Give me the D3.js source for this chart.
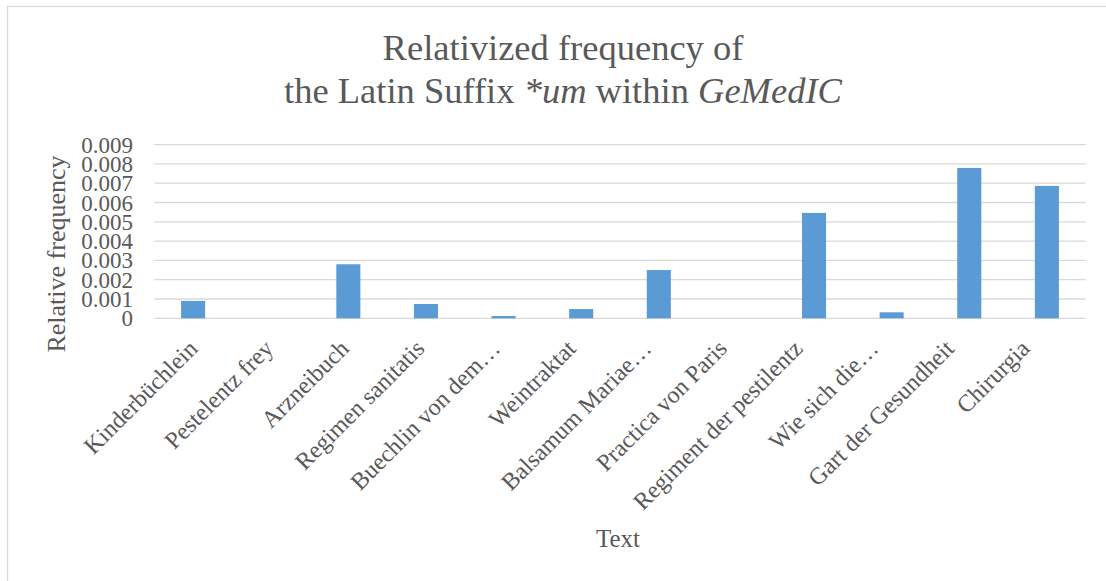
<!DOCTYPE html>
<html>
<head>
<meta charset="utf-8">
<script src="https://cdn.jsdelivr.net/npm/d3@7"></script>
<style>
  html, body { margin: 0; padding: 0; background: #ffffff; }
  svg { display: block; }
  text { font-family: "Liberation Serif", "Times New Roman", serif; fill: #595959; }
</style>
</head>
<body>
<svg id="chart" width="1106" height="581"></svg>
<script>
// Texts of the GeMedIC corpus and the relativized frequency of *um in each
const texts = [
  "Kinderbüchlein", "Pestelentz frey", "Arzneibuch", "Regimen sanitatis",
  "Buechlin von dem…", "Weintraktat", "Balsamum Mariae…", "Practica von Paris",
  "Regiment der pestilentz", "Wie sich die…", "Gart der Gesundheit", "Chirurgia"
];
const frequencies = [
  0.0009, 0, 0.0028, 0.00074,
  0.00012, 0.00048, 0.0025, 0,
  0.00546, 0.00031, 0.00779, 0.00686
];
const yTicks = [0, 0.001, 0.002, 0.003, 0.004, 0.005, 0.006, 0.007, 0.008, 0.009];
const yTickLabels = ["0", "0.001", "0.002", "0.003", "0.004", "0.005", "0.006", "0.007", "0.008", "0.009"];

const svg = d3.select("#chart");

// chart frame
svg.append("rect")
  .attr("x", 7.5).attr("y", 6.5)
  .attr("width", 1200).attr("height", 700)
  .attr("fill", "#ffffff")
  .attr("stroke", "#d9d9d9").attr("stroke-width", 1.3);

const plot = { left: 154.3, right: 1085.7, top: 144.6, bottom: 318.3 };

const x = d3.scaleBand()
  .domain(texts)
  .range([plot.left, plot.right])
  .paddingInner(0.69)
  .paddingOuter(0.345);

// anchor points of the slanted category labels
const labelX = d3.scalePoint()
  .domain(texts)
  .range([199, 1031]);

const y = d3.scaleLinear()
  .domain([0, 0.009])
  .range([plot.bottom, plot.top]);

// horizontal gridlines
svg.append("g")
  .selectAll("line")
  .data(yTicks)
  .join("line")
  .attr("x1", plot.left).attr("x2", plot.right)
  .attr("y1", d => y(d)).attr("y2", d => y(d))
  .attr("stroke", "#d9d9d9").attr("stroke-width", 1.3);

// y tick labels
svg.append("g")
  .selectAll("text")
  .data(yTicks)
  .join("text")
  .attr("x", 133)
  .attr("y", d => y(d))
  .attr("dy", "0.35em")
  .attr("text-anchor", "end")
  .style("font-size", "23px")
  .text((d, i) => yTickLabels[i]);

// bars
svg.append("g")
  .selectAll("rect")
  .data(frequencies)
  .join("rect")
  .attr("x", (d, i) => x(texts[i]))
  .attr("y", d => y(d))
  .attr("width", x.bandwidth())
  .attr("height", d => y(0) - y(d))
  .attr("fill", "#5b9bd5");

// category labels, slanted
svg.append("g")
  .selectAll("text")
  .data(texts)
  .join("text")
  .attr("transform", d => `translate(${labelX(d)},350) rotate(-45)`)
  .attr("text-anchor", "end")
  .style("font-size", "24px")
  .text(d => d);

// title
const title = svg.append("text")
  .attr("text-anchor", "middle")
  .style("font-size", "36.5px");
title.append("tspan").attr("x", 563).attr("y", 60).text("Relativized frequency of");
const line2 = title.append("tspan").attr("x", 563).attr("y", 103);
line2.append("tspan").text("the Latin Suffix ");
line2.append("tspan").style("font-style", "italic").text("*um");
line2.append("tspan").text(" within ");
line2.append("tspan").style("font-style", "italic").text("GeMedIC");

// axis titles
svg.append("text")
  .attr("transform", "translate(65,254) rotate(-90)")
  .attr("text-anchor", "middle")
  .style("font-size", "26px")
  .text("Relative frequency");

svg.append("text")
  .attr("x", 618).attr("y", 547)
  .attr("text-anchor", "middle")
  .style("font-size", "25px")
  .text("Text");
</script>
</body>
</html>
